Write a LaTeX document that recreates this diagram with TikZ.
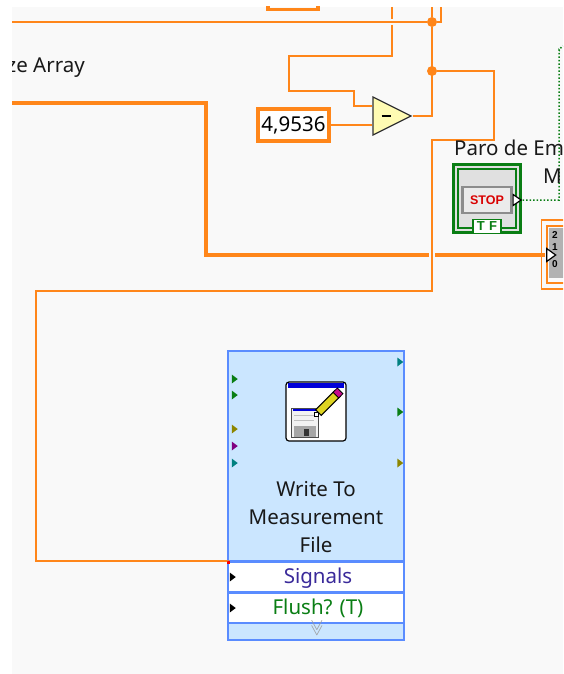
\documentclass[tikz,border=0pt]{standalone}
\usepackage{fontspec}
\setmainfont{Noto Sans}
\newfontfamily\heavyfont{Liberation Sans}
\usepackage{xcolor}
\usetikzlibrary{
  positioning,
  calc,
  shapes.geometric
}
\definecolor{wirecol}{HTML}{FF861A}
\definecolor{panelcol}{HTML}{F9F9F9}
\definecolor{blockcol}{HTML}{CBE6FF}
\definecolor{edgecol}{HTML}{5A8CFF}
\definecolor{boolcol}{HTML}{0A7E14}
\definecolor{sigcol}{HTML}{3A2A9A}
\tikzset{
  x=1pt, y=-1pt,
  lbl/.style = {
    inner sep=0pt, font=\fontsize{20.5}{20.5}\selectfont, text=black!90
  },
  wire/.style = {
    draw=wirecol, line width=2pt
  },
  thick wire/.style = {
    draw=wirecol, line width=3.4pt
  },
  dot/.style = {
    circle, fill=wirecol, inner sep=0pt, minimum size=10pt
  },
  constbox/.style = {
    draw=wirecol, line width=3.5pt, fill=white, inner sep=0pt,
    minimum width=71pt, minimum height=32pt
  },
  subfn/.style = {
    isosceles triangle, isosceles triangle stretches, draw=black!80,
    line width=1.2pt, fill=yellow!30!white, inner sep=0pt,
    minimum width=38pt, minimum height=38pt
  },
  term/.style = {
    isosceles triangle, isosceles triangle stretches, fill=#1, inner sep=0pt,
    minimum width=9pt, minimum height=6pt
  },
  row/.style = {
    draw=edgecol, line width=1.5pt, fill=white, inner sep=0pt,
    minimum width=176pt, minimum height=30pt
  },
  sellbl/.style = {
    inner sep=0pt, font=\fontsize{10}{10}\heavyfont\bfseries
  }
}
\begin{document}
\begin{tikzpicture}
  \useasboundingbox (0,0) rectangle (563,674);
  \fill [panelcol] (12,7) rectangle (563,674);
  \clip (12,7) rectangle (563,674);
  % top of the wires
  \path
    (12,22) coordinate (a0)
    (392,7) coordinate (b0)
    (392,19) coordinate (b1)
    (392,25) coordinate (b2)
    (289,56) coordinate (b3)
    (354,91) coordinate (b4)
    (441,7) coordinate (c0)
    (432,7) coordinate (c1)
    (432,22) node [dot] (j1) {}
    (432,71) node [dot] (j2) {}
    (494,140) coordinate (d0)
    (432,291) coordinate (d1)
    (36,561) coordinate (d2)
    (228,561) coordinate (d3)
    (12,103) coordinate (e0)
    (206,255) coordinate (e1)
    (429,255) coordinate (e2)
    (435,255) coordinate (e3);
  \path
    (293.5,125) node [constbox] (k) {\fontsize{20.5}{20.5}\selectfont 4,9536}
    (386,116) node [subfn] (sub) {\rule[-0.75pt]{9pt}{1.5pt}}
    (293,0) node [draw=wirecol, line width=3.5pt, minimum width=50pt, minimum height=19pt, inner sep=0pt] (top) {};
  \coordinate (subin1) at (sub.west |- 0,106);
  \coordinate (subin2) at (sub.west |- k.east);
  % wires
  \draw [wire] (a0) -- (j1);
  \draw [wire] (j1) -- (c1);
  \draw [wire] (j1) -| (c0);
  \draw [wire] (b0) -- (b1);
  \draw [wire] (b2) |- (b3) |- (b4) |- (subin1);
  \draw [wire] (k.east) -- (subin2);
  \draw [wire] (sub.apex) -| (j1);
  \draw [wire] (j2) -| (d0) -| (d1) -| (d2) |- (d3);
  \draw [thick wire] (e0) -| (e1) -- (e2);
  \draw [thick wire] (e3) -- (545,255);
  % stop button
  \path
    (487,198.5) node [draw=boolcol, line width=3.5pt, fill=black!12, minimum width=67pt, minimum height=68pt, inner sep=0pt] (stop) {}
    (487,198.5) node [draw=boolcol, line width=1.4pt, minimum width=58pt, minimum height=59pt, inner sep=0pt] (stopin) {}
    (487,200) node [draw=black!45, line width=2.5pt, fill=black!8, minimum width=49pt, minimum height=26pt, inner sep=0pt, text=red!85!black, font=\fontsize{12.5}{12.5}\heavyfont\bfseries] (btn) {STOP}
    (487,226.5) node [draw=boolcol, line width=1.4pt, fill=white, minimum width=28pt, minimum height=14pt, inner sep=0pt, text=boolcol, font=\fontsize{13}{13}\heavyfont\bfseries] (tf) {T\,\,F}
    (516,200) node [term=white, draw=black, line width=1.2pt, minimum width=11pt, minimum height=8pt] (out) {};
  \draw [boolcol, line width=1.5pt, dotted] (out.apex) -| (559,50) to [out=-90, in=180] (563,46);
  % selector on the right
  \path
    (558,254.5) node [draw=wirecol, line width=1.5pt, minimum width=33pt, minimum height=69pt, inner sep=0pt] (sel) {}
    (558,254.5) node [draw=wirecol, line width=1.5pt, minimum width=22pt, minimum height=57pt, inner sep=0pt] (selin) {}
    (557,253) node [fill=black!30, minimum width=17pt, minimum height=50pt, inner sep=0pt] (selbox) {}
    (555,235) node [sellbl] (s2) {2}
    (555,247) node [sellbl] (s1) {1}
    (555,264) node [sellbl] (s0) {0}
    (550,255) node [term=white, draw=black, line width=1.2pt, minimum width=13pt, minimum height=9pt] (selt) {};
  % labels
  \path
    (85,68) node [lbl, anchor=east] (size) {ze Array}
    (454,148) node [lbl, anchor=west] (paro) {Paro de Em}
    (543,176) node [lbl, anchor=west] (pm) {M};
  % file block
  \path
    (316,456) node [draw=edgecol, line width=1.5pt, fill=blockcol, minimum width=176pt, minimum height=210pt, inner sep=0pt] (blk) {}
    (316,489) node [lbl] (w1) {Write To}
    (316,517) node [lbl] (w2) {Measurement}
    (316,545) node [lbl] (w3) {File}
    (316,577) node [row] (sig) {}
    (316,608) node [row] (fl) {}
    (318,578) node [lbl, text=sigcol] (sigt) {Signals}
    (318,608.5) node [lbl, text=boolcol] (flt) {Flush? (T)}
    (316,631.5) node [draw=edgecol, line width=1.5pt, fill=blockcol, minimum width=176pt, minimum height=17pt, inner sep=0pt] (more) {}
    (317,628.5) node [text=black!40, font=\fontsize{18}{18}\selectfont, inner sep=0pt, rotate=-90] (chev) {$\gg$}
    (234,379) node [term=boolcol] (t1) {}
    (234,395) node [term=boolcol] (t2) {}
    (234,429) node [term=olive] (t3) {}
    (234,446) node [term=violet] (t4) {}
    (234,463) node [term=teal] (t5) {}
    (399.5,362) node [term=teal] (o1) {}
    (399.5,412) node [term=boolcol] (o2) {}
    (399.5,463) node [term=olive] (o3) {}
    (232,577) node [term=black] (t6) {}
    (232,608) node [term=black] (t7) {}
    (228.5,562) node [fill=red, minimum size=3pt, inner sep=0pt] (tick) {};
  \draw [wire] (d3) -- (tick);
  % icon
  \path
    (316,411.5) node [draw=black, line width=1.2pt, fill=white, rounded corners=3pt, minimum width=60pt, minimum height=59pt, inner sep=0pt] (icon) {}
    (316,385.5) node [fill=blue!85!black, minimum width=56pt, minimum height=5pt, inner sep=0pt] (bar) {}
    (304.5,423) node [draw=black!70, line width=1pt, fill=black!5, minimum width=27pt, minimum height=29pt, inner sep=0pt] (disk) {}
    (304.5,410) node [fill=blue!85!black, minimum width=23pt, minimum height=2pt, inner sep=0pt] (diskbar) {}
    (304,415) node [fill=black!25, minimum width=20pt, minimum height=1pt, inner sep=0pt] (diskl1) {}
    (304,420) node [fill=black!25, minimum width=20pt, minimum height=1pt, inner sep=0pt] (diskl2) {}
    (304.5,431) node [fill=black!35, minimum width=22pt, minimum height=11pt, inner sep=0pt] (diskbot) {}
    (306,432) node [fill=black!80, minimum width=5pt, minimum height=7pt, inner sep=0pt] (diskgap) {}
    (328,403) node [draw=black, line width=1pt, fill=yellow!85!black, rotate=45, minimum width=27pt, minimum height=8pt, inner sep=0pt] (pencil) {}
    (338,393) node [draw=black, line width=.8pt, fill=magenta!80!blue, rotate=45, minimum width=6pt, minimum height=8pt, inner sep=0pt] (eraser) {}
    (316.5,414.5) node [draw=black, line width=.8pt, fill=white, minimum size=4pt, inner sep=0pt] (tip) {};
\end{tikzpicture}
\end{document}
